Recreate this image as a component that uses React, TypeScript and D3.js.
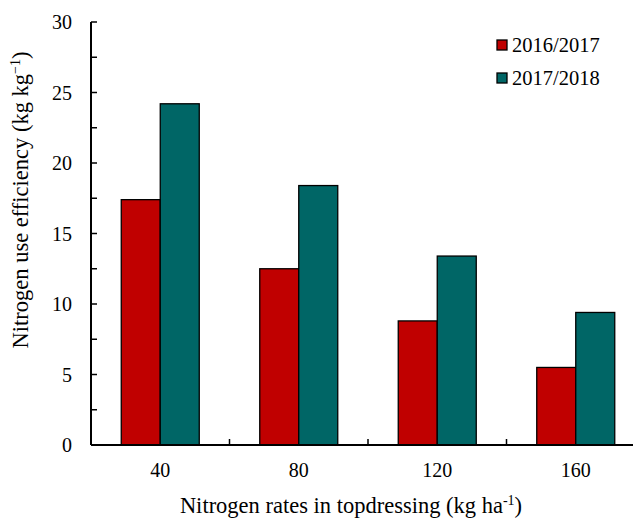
import React from "react";
import * as d3 from "d3";

const categories = ["40", "80", "120", "160"];
const seriesNames = ["2016/2017", "2017/2018"];
const values2016 = [17.4, 12.5, 8.8, 5.5];
const values2017 = [24.2, 18.4, 13.4, 9.4];
const colors = ["#C00000", "#006666"];
const yTicks = [0, 2.5, 5, 7.5, 10, 12.5, 15, 17.5, 20, 22.5, 25, 27.5, 30];

export default function App() {
  const W = 633, H = 519;
  const left = 91, right = 645, top = 22, bottom = 445;
  const font = "'Liberation Serif', 'Times New Roman', serif";
  const x = d3.scaleBand<string>().domain(categories).range([left, right]);
  const y = d3.scaleLinear().domain([0, 30]).range([bottom, top]);
  const groupW = 78;
  const inner = d3.scaleBand<string>().domain(seriesNames).range([0, groupW]);
  const series = [values2016, values2017];

  return (
    <svg width={W} height={H} style={{ position: "absolute", left: 0, top: 0, background: "#fff" }} fontFamily={font}>
      {categories.map((c, i) => {
        const cx = (x(c) as number) + x.bandwidth() / 2 - groupW / 2;
        return series.map((s, j) => (
          <rect key={c + j} x={cx + (inner(seriesNames[j]) as number)} y={y(s[i])} width={inner.bandwidth()} height={bottom - y(s[i])}
            fill={colors[j]} stroke="#000" strokeWidth={1.3} />
        ));
      })}
      <line x1={left} x2={left} y1={top} y2={bottom} stroke="#000" strokeWidth={2} />
      {yTicks.map((t) => (
        <g key={t}>
          <line x1={left} x2={left + 6} y1={y(t)} y2={y(t)} stroke="#000" strokeWidth={1.5} />
          {t % 5 === 0 && (
            <text x={left - 19} y={y(t)} dy="0.35em" textAnchor="end" fontSize={20}>{t}</text>
          )}
        </g>
      ))}
      <line x1={left} x2={right} y1={bottom} y2={bottom} stroke="#000" strokeWidth={2} />
      {categories.slice(1).map((c) => (
        <line key={c} x1={x(c) as number} x2={x(c) as number} y1={bottom} y2={bottom - 6} stroke="#000" strokeWidth={1.5} />
      ))}
      {categories.map((c) => (
        <text key={c} x={(x(c) as number) + x.bandwidth() / 2} y={477} textAnchor="middle" fontSize={20}>{c}</text>
      ))}
      <text x={351} y={513} textAnchor="middle" fontSize={22.5}>
        Nitrogen rates in topdressing (kg ha<tspan dy={-8} fontSize={14}>-1</tspan><tspan dy={8}>)</tspan>
      </text>
      <text transform="translate(28,200) rotate(-90)" textAnchor="middle" fontSize={22.5}>
        Nitrogen use efficiency (kg kg<tspan dy={-8} fontSize={14}>−1</tspan><tspan dy={8}>)</tspan>
      </text>
      {seriesNames.map((n, j) => (
        <g key={n}>
          <rect x={497} y={40 + j * 33} width={10} height={10} fill={colors[j]} stroke="#000" strokeWidth={1.3} />
          <text x={512} y={45 + j * 33} dy="0.35em" fontSize={20.5}>{n}</text>
        </g>
      ))}
    </svg>
  );
}
